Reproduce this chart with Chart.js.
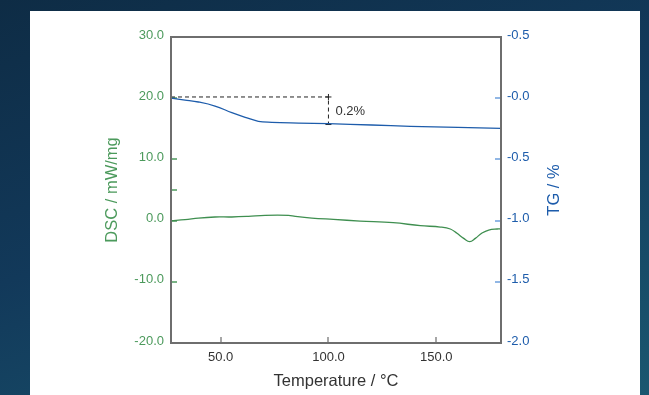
<!DOCTYPE html>
<html>
<head>
<meta charset="utf-8">
<script src="https://cdn.jsdelivr.net/npm/chart.js@4.4.1/dist/chart.umd.min.js"></script>
<style>
  html, body { margin: 0; padding: 0; }
  body {
    width: 649px; height: 395px; overflow: hidden; position: relative;
    background: linear-gradient(160deg, #0e2c45 0%, #12395a 45%, #1a5770 100%);
  }
  .panel { position: absolute; left: 30px; top: 11px; width: 610px; height: 384px; background: #fff; }
  #chart { position: absolute; left: 0; top: 0; }
</style>
</head>
<body>
<div class="panel"></div>
<canvas id="chart" width="649" height="395"></canvas>
<script>
const FONT = '"Liberation Sans", Arial, Helvetica, sans-serif';
const GREEN = '#3f8f50';
const GREEN_LABEL = '#4c9a5c';
const BLUE = '#1d5cab';
const BLUE_TICK = '#6c9fdc';
const FRAME = '#6e6e6e';

// DSC curve (mW/mg, left axis)
const dscTemps  = [27, 33.5, 39.7, 47.4, 55.2, 62.9, 70.6, 81.5, 84.6, 92.3, 102.3, 114.7, 130, 142.6, 151.9, 156.5, 159.6, 162.7, 165.5, 168.1, 171.2, 174.3, 178.2, 180];
const dscValues = [0.0, 0.15, 0.42, 0.59, 0.59, 0.7, 0.87, 0.87, 0.7, 0.42, 0.2, -0.07, -0.34, -0.83, -1.05, -1.37, -2.08, -2.9, -3.45, -2.9, -2.03, -1.54, -1.37, -1.37];

// TG curve (%, right axis)
const tgTemps  = [27, 33.5, 39.7, 47.4, 55.2, 61.4, 67.5, 73.7, 86.1, 100, 120, 138, 160, 180];
const tgValues = [0.0, -0.015, -0.031, -0.064, -0.118, -0.156, -0.189, -0.197, -0.203, -0.208, -0.219, -0.23, -0.238, -0.246];

// step annotation (on TG axis)
const stepTemps  = [27, 100, 100];
const stepValues = [0.01, 0.01, -0.215];
const stepLabel = '0.2%';

// axes
const xTickValues = [50, 100, 150];
const dscTickValues = [-20, -10, 0, 10, 20, 30];
const dscExtraTicks = [5];
const tgTickValues = [-2, -1.5, -1, -0.5, 0, 0.5];
const tgTickLabels = ['-2.0', '-1.5', '-1.0', '-0.5', '-0.0', '-0.5'];

const toPoints = (xs, ys) => xs.map((x, i) => ({ x: x, y: ys[i] }));

const decor = {
  id: 'decor',
  beforeDatasetsDraw(chart) {
    const ctx = chart.ctx, a = chart.chartArea;
    const sx = chart.scales.x, sy = chart.scales.y, sy2 = chart.scales.y2;
    ctx.save();
    ctx.lineWidth = 1.5;
    ctx.strokeStyle = GREEN_LABEL;
    dscTickValues.concat(dscExtraTicks).forEach(v => {
      if (v === sy.min || v === sy.max) return;
      const y = Math.round(sy.getPixelForValue(v));
      ctx.beginPath(); ctx.moveTo(a.left, y); ctx.lineTo(a.left + 6, y); ctx.stroke();
    });
    ctx.strokeStyle = BLUE_TICK;
    tgTickValues.forEach(v => {
      if (v === sy2.min || v === sy2.max) return;
      const y = Math.round(sy2.getPixelForValue(v));
      ctx.beginPath(); ctx.moveTo(a.right - 6, y); ctx.lineTo(a.right, y); ctx.stroke();
    });
    ctx.strokeStyle = '#888';
    xTickValues.forEach(v => {
      const x = Math.round(sx.getPixelForValue(v));
      ctx.beginPath(); ctx.moveTo(x, a.bottom); ctx.lineTo(x, a.bottom - 6); ctx.stroke();
    });
    ctx.restore();
  },
  afterDatasetsDraw(chart) {
    const ctx = chart.ctx, a = chart.chartArea;
    const sx = chart.scales.x, sy2 = chart.scales.y2;
    ctx.save();
    ctx.strokeStyle = FRAME;
    ctx.lineWidth = 2;
    ctx.strokeRect(a.left, a.top, a.right - a.left, a.bottom - a.top);

    ctx.fillStyle = '#333';
    ctx.font = '13px ' + FONT;
    ctx.textAlign = 'left';
    ctx.textBaseline = 'middle';
    ctx.fillText(stepLabel, sx.getPixelForValue(stepTemps[1]) + 7, sy2.getPixelForValue(-0.105));

    ctx.font = '16.5px ' + FONT;
    ctx.textAlign = 'center';
    ctx.fillStyle = '#333';
    ctx.fillText('Temperature / °C', (a.left + a.right) / 2, 381);

    const midY = (a.top + a.bottom) / 2;
    ctx.save();
    ctx.translate(112, midY);
    ctx.rotate(-Math.PI / 2);
    ctx.fillStyle = GREEN_LABEL;
    ctx.fillText('DSC / mW/mg', 0, 0);
    ctx.restore();

    ctx.save();
    ctx.translate(554, midY);
    ctx.rotate(-Math.PI / 2);
    ctx.fillStyle = BLUE;
    ctx.fillText('TG / %', 0, 0);
    ctx.restore();
    ctx.restore();
  }
};

new Chart(document.getElementById('chart'), {
  type: 'line',
  data: {
    datasets: [
      {
        label: 'DSC',
        data: toPoints(dscTemps, dscValues),
        yAxisID: 'y',
        borderColor: GREEN,
        borderWidth: 1.3,
        pointRadius: 0,
        tension: 0.4
      },
      {
        label: 'TG',
        data: toPoints(tgTemps, tgValues),
        yAxisID: 'y2',
        borderColor: BLUE,
        borderWidth: 1.3,
        pointRadius: 0,
        tension: 0.4
      },
      {
        label: 'step',
        data: toPoints(stepTemps, stepValues),
        yAxisID: 'y2',
        borderColor: '#222',
        borderWidth: 1,
        borderDash: [4, 3],
        tension: 0,
        pointStyle: [false, 'cross', 'line'],
        pointRadius: [0, 3, 3],
        pointBorderColor: '#222',
        pointBorderWidth: 1
      }
    ]
  },
  options: {
    responsive: false,
    animation: false,
    devicePixelRatio: 1,
    layout: { padding: { top: 37, left: 0, right: 0, bottom: 0 } },
    plugins: { legend: { display: false }, tooltip: { enabled: false } },
    scales: {
      x: {
        type: 'linear',
        min: 27,
        max: 180,
        afterBuildTicks: s => { s.ticks = xTickValues.map(v => ({ value: v })); },
        afterFit: s => { s.height = 52; },
        grid: { display: false, drawTicks: false },
        border: { display: false },
        ticks: {
          color: '#333',
          padding: 7,
          font: { family: FONT, size: 13 },
          callback: v => v.toFixed(1)
        }
      },
      y: {
        position: 'left',
        min: -20,
        max: 30,
        afterBuildTicks: s => { s.ticks = dscTickValues.map(v => ({ value: v })); },
        afterFit: s => { s.width = 171; },
        grid: { display: false, drawTicks: false },
        border: { display: false },
        ticks: {
          color: GREEN_LABEL,
          padding: 7,
          labelOffset: -2,
          font: { family: FONT, size: 13 },
          callback: v => v.toFixed(1)
        }
      },
      y2: {
        position: 'right',
        min: -2,
        max: 0.5,
        afterBuildTicks: s => { s.ticks = tgTickValues.map(v => ({ value: v })); },
        afterFit: s => { s.width = 148; },
        grid: { display: false, drawTicks: false },
        border: { display: false },
        ticks: {
          color: BLUE,
          padding: 6,
          labelOffset: -2,
          font: { family: FONT, size: 13 },
          callback: (v, i) => tgTickLabels[i]
        }
      }
    }
  },
  plugins: [decor]
});
</script>
</body>
</html>
